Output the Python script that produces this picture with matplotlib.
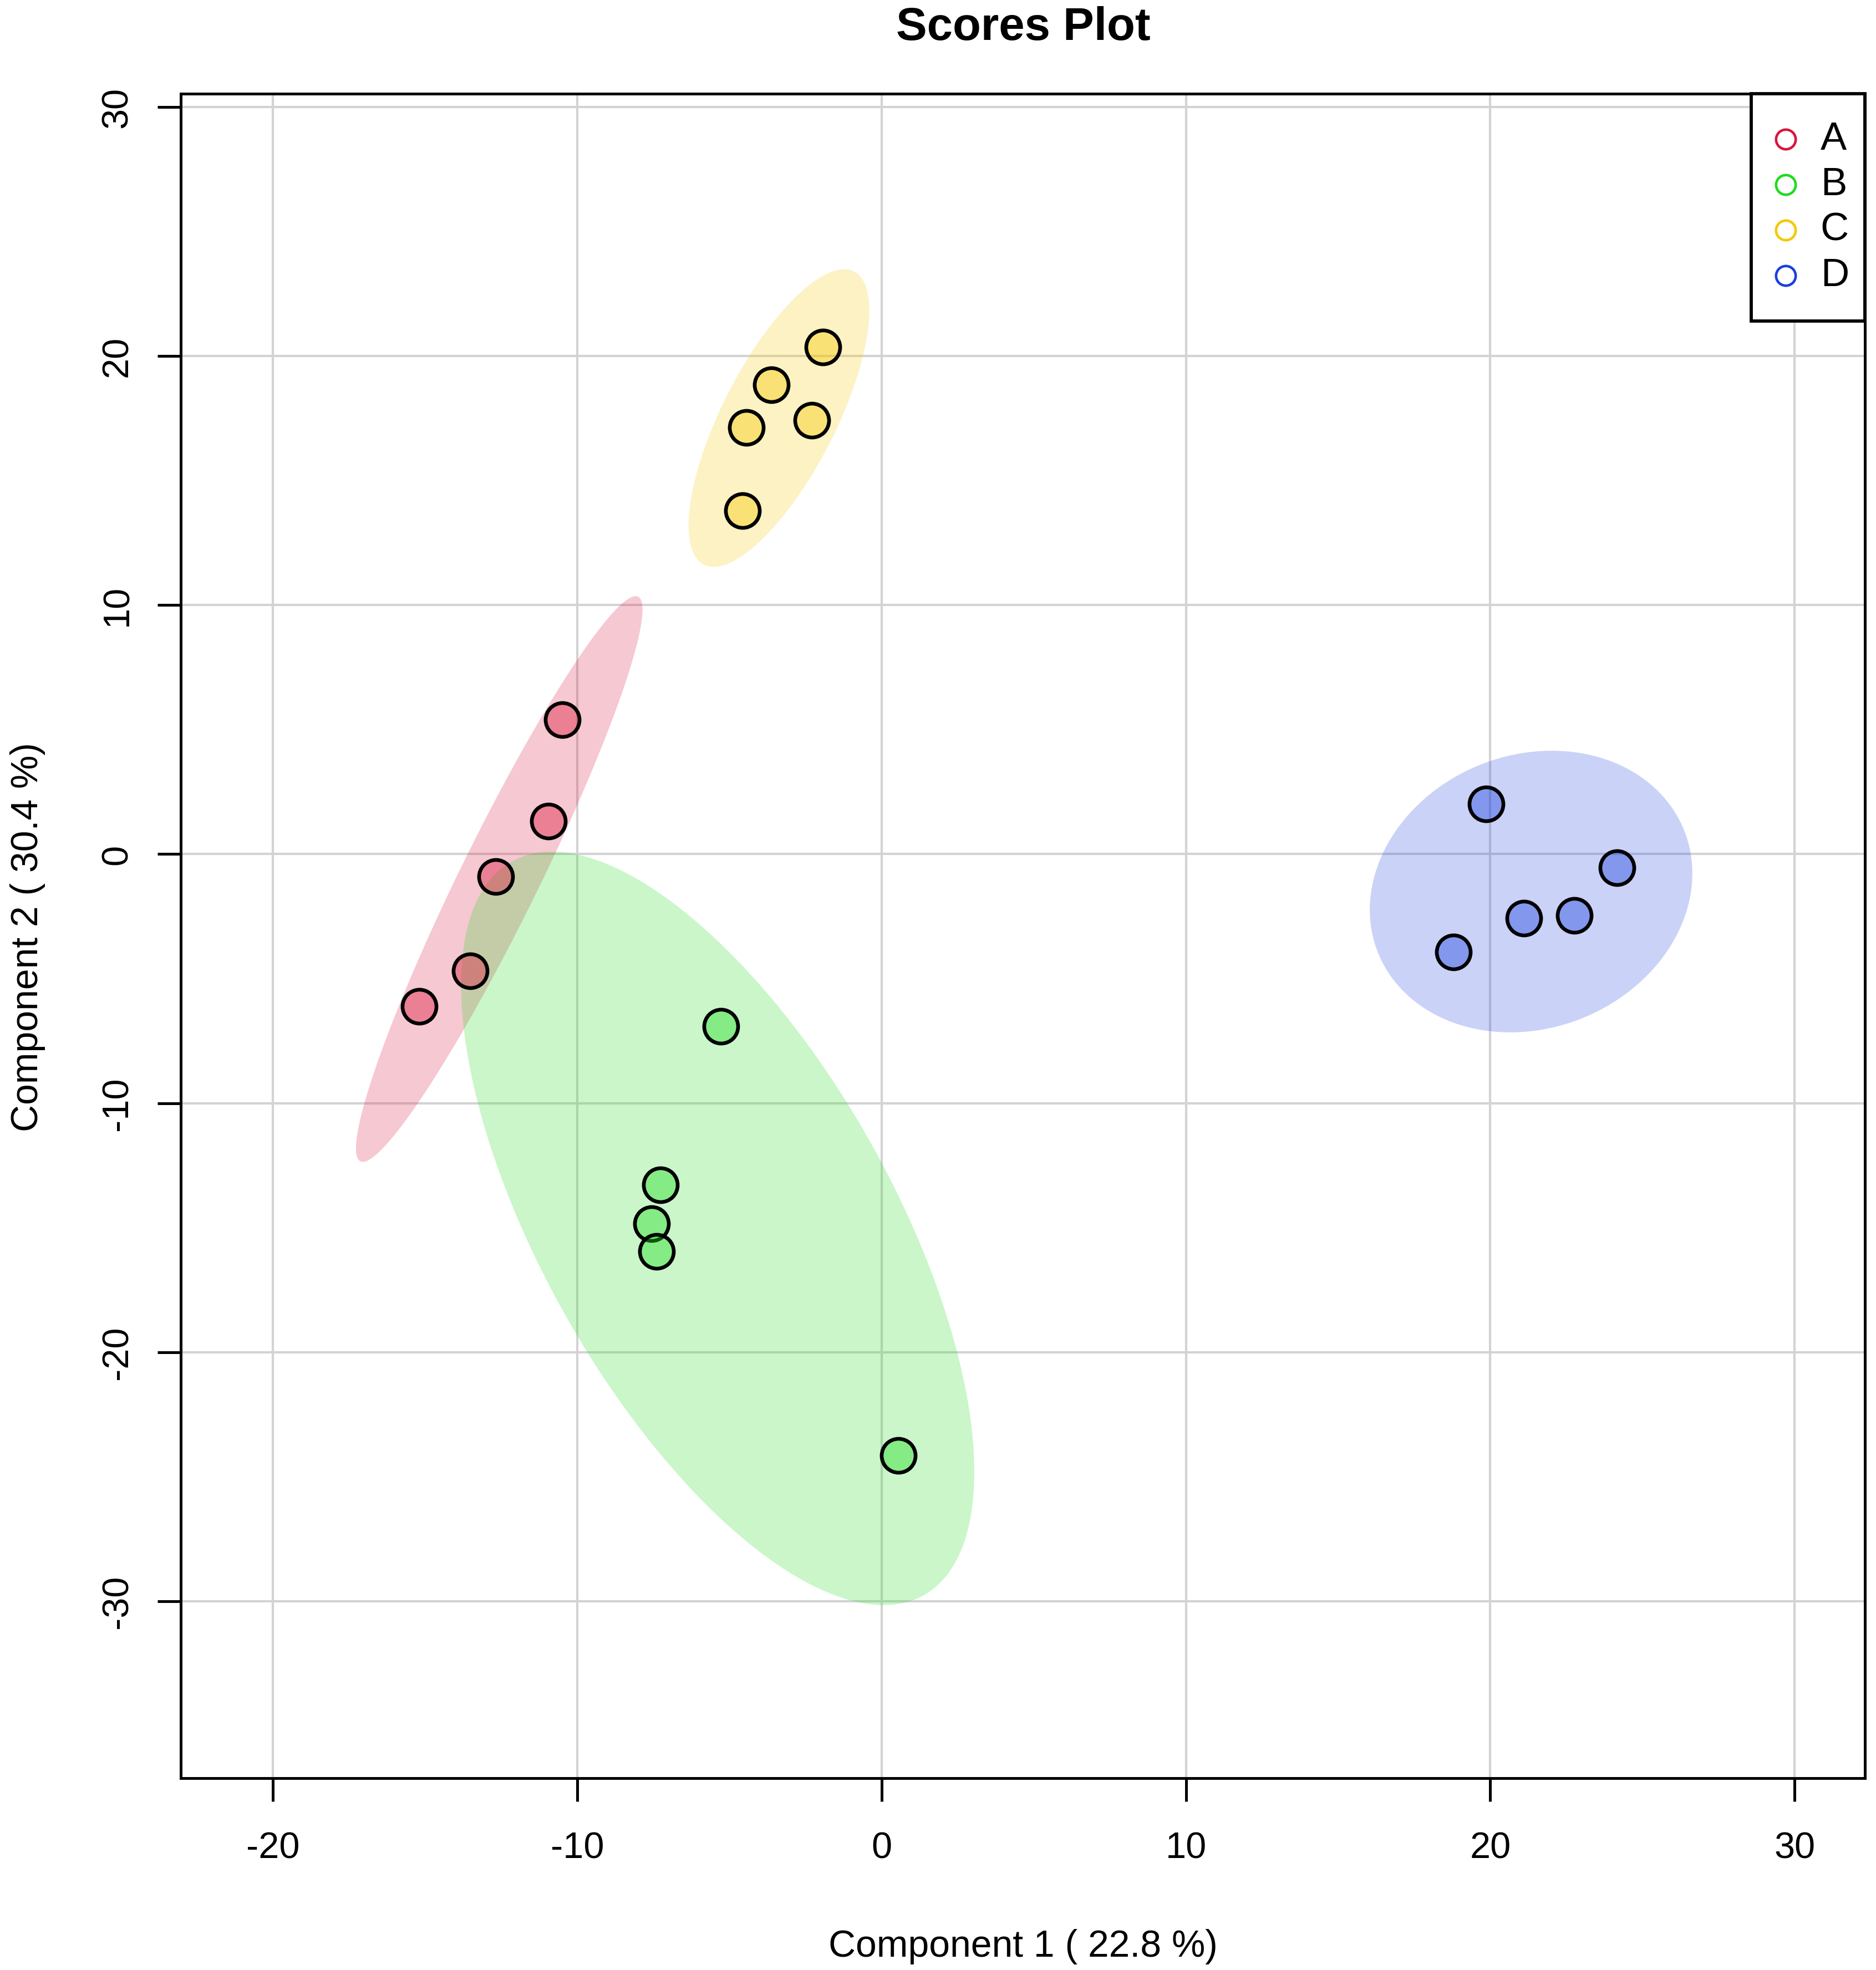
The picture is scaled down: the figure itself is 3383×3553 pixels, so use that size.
import numpy as np
import matplotlib
matplotlib.use("Agg")
import matplotlib.pyplot as plt
from matplotlib.patches import Rectangle

# scores, one pair of arrays per group
groups = ["A", "B", "C", "D"]
a_x = [-10.49, -10.94, -12.68, -13.51, -15.20]
a_y = [5.40, 1.31, -0.91, -4.70, -6.11]
b_x = [-5.28, -7.26, -7.55, -7.39, 0.55]
b_y = [-6.92, -13.28, -14.85, -15.96, -24.14]
c_x = [-1.93, -3.62, -4.45, -2.30, -4.57]
c_y = [20.35, 18.84, 17.12, 17.42, 13.79]
d_x = [19.87, 24.17, 21.11, 22.76, 18.79]
d_y = [2.02, -0.56, -2.58, -2.47, -3.94]

group_colors = ["#DC143C", "#1EDC1E", "#F5C800", "#1A3FE0"]
x_ticks = [-20, -10, 0, 10, 20, 30]
y_ticks = [-30, -20, -10, 0, 10, 20, 30]
conf_level = 0.95

plt.rcParams["font.family"] = ["Liberation Sans", "DejaVu Sans"]
plt.rcParams["axes.unicode_minus"] = False


def conf_ellipse(x, y, level=0.95, n=300):
    """Confidence ellipse of a 2D point cloud (chi-square, 2 dof)."""
    x = np.asarray(x)
    y = np.asarray(y)
    centre = np.array([x.mean(), y.mean()])
    cov = np.cov(x, y)
    vals, vecs = np.linalg.eigh(cov)
    chi2 = -2.0 * np.log(1.0 - level)
    t = np.linspace(0, 2 * np.pi, n)
    circle = np.vstack([np.cos(t), np.sin(t)])
    pts = vecs @ (np.sqrt(vals * chi2)[:, None] * circle) + centre[:, None]
    return pts[0], pts[1]


fig = plt.figure(figsize=(3383 / 300, 3554 / 300), dpi=300)
ax = fig.add_axes([0.0965, 0.0974, 0.8976, 0.8548])

series = [(a_x, a_y), (b_x, b_y), (c_x, c_y), (d_x, d_y)]

# ellipses first, then the points on top
for (xs, ys), col in zip(series, group_colors):
    ex, ey = conf_ellipse(xs, ys, conf_level)
    ax.fill(ex, ey, color=col, alpha=0.23, linewidth=0, zorder=1)

for (xs, ys), col in zip(series, group_colors):
    face = matplotlib.colors.to_rgba(col, 0.4)
    ax.scatter(xs, ys, s=215, facecolors=[face], edgecolors="black",
               linewidths=1.6, zorder=3)

ax.set_xlim(-23.02, 32.31)
ax.set_ylim(-37.1, 30.53)
ax.set_xticks(x_ticks)
ax.set_yticks(y_ticks)
ax.set_axisbelow(True)
ax.grid(color="#d3d3d3", linewidth=1.0, zorder=0)

for sp in ax.spines.values():
    sp.set_linewidth(1.2)
ax.tick_params(axis="both", direction="out", length=10, width=1.2,
               labelsize=16, colors="black")
ax.tick_params(axis="x", pad=13)
ax.tick_params(axis="y", pad=10, labelrotation=90)
for lab in ax.get_yticklabels():
    lab.set_va("center")

# R-style legend box in the upper-right corner (built by hand, the
# padding is not symmetric like matplotlib's legend)
ax.add_patch(Rectangle((0.9325, 0.865), 0.0675, 0.135, transform=ax.transAxes,
                       facecolor="white", edgecolor="black", linewidth=1.4,
                       zorder=5, clip_on=False))
row_step = 0.027
for i, (name, col) in enumerate(zip(groups, group_colors)):
    ry = 0.973 - i * row_step
    ax.plot([0.9529], [ry], transform=ax.transAxes, linestyle="none",
            marker="o", markersize=8.5, markerfacecolor="none",
            markeredgecolor=col, markeredgewidth=1.1, zorder=6, clip_on=False)
    ax.text(0.9736, ry, name, transform=ax.transAxes, ha="left", va="center",
            fontsize=17, zorder=6)

fig.text(0.5454, 0.986, "Scores Plot", ha="center", va="center",
         fontsize=20, fontweight="bold")
fig.text(0.5454, 0.0121, "Component 1 ( 22.8 %)", ha="center", va="center",
         fontsize=16.3)
fig.text(0.0148, 0.5245, "Component 2 ( 30.4 %)", ha="center", va="center",
         rotation=90, fontsize=16.3)

fig.savefig("out.png", dpi=300)
plt.close(fig)
